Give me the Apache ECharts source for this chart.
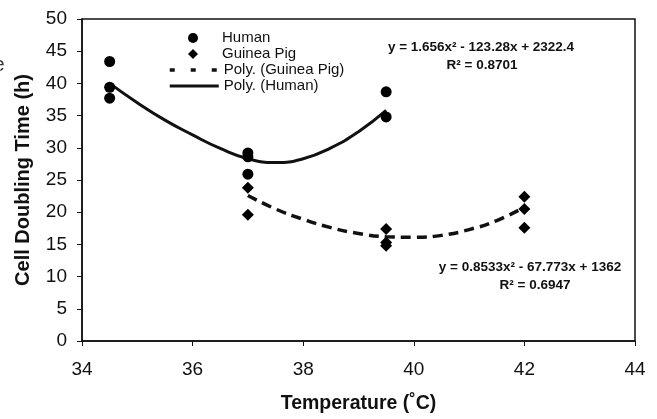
<!DOCTYPE html>
<html><head><meta charset="utf-8">
<script src="https://cdn.jsdelivr.net/npm/echarts@6/dist/echarts.min.js"></script>
<style>html,body{margin:0;padding:0;background:#fff}#c{width:657px;height:419px}</style>
</head><body><div id="c"></div>
<script>
var humanPts = [[34.5,43.4],[34.5,39.4],[34.5,37.7],[37,29.2],[37,28.6],[37,25.9],[39.5,38.7],[39.5,34.8]];
var guineaPts = [[37,23.8],[37,19.6],[39.5,17.4],[39.5,15.3],[39.5,14.8],[42,22.4],[42,20.5],[42,17.6]];
var humanFitX = [34.5,35,35.5,36,36.5,37,37.5,38,38.5,39,39.5];
var humanFitY = [40.0,37.0,34.3,32.0,29.9,28.3,27.7,28.3,30.0,32.5,35.8];
var guineaFitX = [37,37.5,38,38.5,39,39.5,40,40.5,41,41.5,42];
var guineaFitY = [22.6,20.5,18.9,17.6,16.7,16.2,16.1,16.4,17.3,18.7,20.8];
var xTicks = [34,36,38,40,42,44];
var yTicks = [0,5,10,15,20,25,30,35,40,45,50];
var eqHuman = ['y = 1.656x\u00b2 - 123.28x + 2322.4','R\u00b2 = 0.8701'];
var eqGuinea = ['y = 0.8533x\u00b2 - 67.773x + 1362','R\u00b2 = 0.6947'];

function zip(a,b){return a.map(function(v,i){return [v,b[i]];});}
var font = 'Liberation Sans, Arial, sans-serif';
var ink = '#111';
var chart = echarts.init(document.getElementById('c'));
chart.setOption({
  animation:false,
  backgroundColor:'#fff',
  grid:{left:82,right:22,top:19,bottom:76,show:true,borderColor:ink,borderWidth:1.5,containLabel:false},
  xAxis:{type:'value',min:34,max:44,interval:2,
    name:'Temperature (\u02daC)',nameLocation:'middle',nameGap:53,
    nameTextStyle:{fontFamily:font,fontWeight:'bold',fontSize:19.5,color:ink},
    axisLine:{lineStyle:{color:ink,width:1.5}},
    axisTick:{show:true,inside:false,length:5,lineStyle:{color:ink}},
    axisLabel:{fontFamily:font,fontSize:19,color:ink,margin:19,
      formatter:function(v){return xTicks.indexOf(v)>=0?String(v):'';}},
    splitLine:{show:false}},
  yAxis:{type:'value',min:0,max:50,interval:5,
    name:'Cell Doubling Time (h)',nameLocation:'middle',nameGap:49,
    nameTextStyle:{fontFamily:font,fontWeight:'bold',fontSize:20,color:ink},
    axisLine:{show:true,lineStyle:{color:ink,width:1.5}},
    axisTick:{show:true,inside:false,length:5,lineStyle:{color:ink}},
    axisLabel:{fontFamily:font,fontSize:19,color:ink,margin:15,
      formatter:function(v){return yTicks.indexOf(v)>=0?String(v):'';}},
    splitLine:{show:false}},
  legend:[
    {orient:'vertical',left:188,top:30,padding:0,itemGap:0,itemWidth:10,itemHeight:10,
      textStyle:{fontFamily:font,fontSize:15,lineHeight:16,color:ink,padding:[0,0,0,19]},
      itemStyle:{opacity:1},
      data:[{name:'Human',icon:'circle'},{name:'Guinea Pig',icon:'diamond'}]},
    {orient:'vertical',left:168,top:62,padding:0,itemGap:0,itemWidth:49,itemHeight:10,
      textStyle:{fontFamily:font,fontSize:15,lineHeight:16,color:ink},
      itemStyle:{opacity:0},
      data:[{name:'Poly. (Guinea Pig)',lineStyle:{type:[5,16],width:3.5,color:ink}},
            {name:'Poly. (Human)',lineStyle:{type:'solid',width:3,color:ink}}]}
  ],
  series:[
    {name:'Human',type:'scatter',data:humanPts,symbol:'circle',symbolSize:11,itemStyle:{color:'#000',opacity:1},z:3},
    {name:'Guinea Pig',type:'scatter',data:guineaPts,symbol:'diamond',symbolSize:12,itemStyle:{color:'#000',opacity:1},z:3},
    {name:'Poly. (Guinea Pig)',type:'line',data:zip(guineaFitX,guineaFitY),smooth:true,showSymbol:false,symbol:'none',
      lineStyle:{color:ink,width:3.5,type:[10,6]},itemStyle:{color:ink}},
    {name:'Poly. (Human)',type:'line',data:zip(humanFitX,humanFitY),smooth:true,showSymbol:false,symbol:'none',
      lineStyle:{color:ink,width:3},itemStyle:{color:ink}}
  ],
  graphic:[
    {type:'text',x:481,y:47,style:{text:eqHuman[0],fontFamily:font,fontSize:13.5,fontWeight:'bold',fill:ink,align:'center',verticalAlign:'middle'}},
    {type:'text',x:482,y:65,style:{text:eqHuman[1],fontFamily:font,fontSize:13.5,fontWeight:'bold',fill:ink,align:'center',verticalAlign:'middle'}},
    {type:'text',x:530,y:267,style:{text:eqGuinea[0],fontFamily:font,fontSize:13.5,fontWeight:'bold',fill:ink,align:'center',verticalAlign:'middle'}},
    {type:'text',x:535,y:285,style:{text:eqGuinea[1],fontFamily:font,fontSize:13.5,fontWeight:'bold',fill:ink,align:'center',verticalAlign:'middle'}},
    {type:'text',x:-1,y:65,style:{text:'e',fontFamily:font,fontSize:20,fill:'#333',align:'center',verticalAlign:'middle'}}
  ]
});
</script></body></html>
